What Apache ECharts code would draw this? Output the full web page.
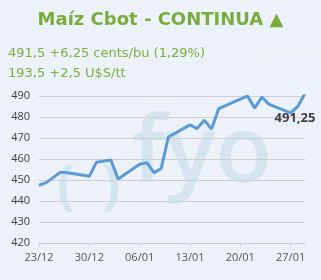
<!DOCTYPE html>
<html><head><meta charset="utf-8">
<script src="https://cdn.jsdelivr.net/npm/echarts@6/dist/echarts.min.js"></script>
<style>html,body{margin:0;padding:0;background:#edf1f9}#c{width:321px;height:280px}</style>
</head><body><div id="c"></div>
<script>
const dates = ["23/12","24/12","26/12","27/12","30/12","31/12","02/01","03/01","06/01","07/01","08/01","09/01","10/01","13/01","14/01","15/01","16/01","17/01","21/01","22/01","23/01","24/01","27/01","28/01","29/01"];
const prices = [447.5,448.75,453.75,453.5,451.75,458.5,459.5,450.5,457.5,458.25,453.5,455.5,470.5,476.25,474.5,478.5,474.25,484,490,484.25,489.5,486,482,485,491.25];
const xTickLabels = ["23/12","30/12","06/01","13/01","20/01","27/01"];
const yTicks = [420,430,440,450,460,470,480,490];
const lastLabel = "491,25";
const titleText = "Maíz Cbot - CONTINUA ▲";
const line1 = "491,5 +6,25 cents/bu (1,29%)";
const line2 = "193,5 +2,5 U$S/tt";

function dayIndex(s){
  const [d,m] = s.split('/').map(Number);
  const y = m === 12 ? 2024 : 2025;
  const t = Date.UTC(y, m-1, d);
  return Math.round((t - Date.UTC(2024,11,23)) / 86400000);
}
const data = dates.map((d,i)=>[dayIndex(d), prices[i]]);
const lastPoint = data[data.length-1];

const chart = echarts.init(document.getElementById('c'), null, {renderer:'canvas'});
chart.setOption({
  backgroundColor:'#edf1f9',
  animation:false,
  title:[
    {text:titleText, left:'center', top:6, textStyle:{fontFamily:'DejaVu Sans', fontWeight:'bold', fontSize:18, color:'#79ad3b'}},
    {text:line1, left:3, top:42, textStyle:{fontFamily:'DejaVu Sans', fontWeight:'normal', fontSize:13, color:'#7ab03e'}},
    {text:line2, left:3, top:62, textStyle:{fontFamily:'DejaVu Sans', fontWeight:'normal', fontSize:13, color:'#7ab03e'}},
    {text:'#¿NOMBRE?', left:251, top:43, textStyle:{fontFamily:'DejaVu Sans', fontWeight:'normal', fontSize:13, color:'#f2f4f1'}}
  ],
  graphic:[
    {id:'wm1', type:'text', z:-1, left:132, top:109, style:{text:'fyo', font:'600 93px "Open Sans"', fill:'#d5e5f0'}},
    {id:'wm2', type:'text', z:-1, left:57, top:162, style:{text:'(', font:'bold 54px "Open Sans"', fill:'#d5e5f0'}},
    {id:'wm3', type:'text', z:-1, left:102, top:162, style:{text:')', font:'bold 54px "Open Sans"', fill:'#d5e5f0'}}
  ],
  grid:{left:39, right:16, top:96, bottom:37},
  xAxis:{type:'value', min:0, max:37, interval:7,
    axisLine:{show:true, lineStyle:{color:'#d0d0d0', width:1}},
    axisTick:{show:true, length:4, lineStyle:{color:'#d0d0d0'}},
    splitLine:{show:false},
    axisLabel:{margin:9, fontFamily:'Open Sans', fontSize:11, color:'#555',
      formatter:(v)=> xTickLabels[Math.round(v/7)] || ''}
  },
  yAxis:{type:'value', min:yTicks[0], max:yTicks[yTicks.length-1], interval:10,
    axisLine:{show:false}, axisTick:{show:false},
    splitLine:{lineStyle:{color:'#d0d0d0', width:1}},
    axisLabel:{margin:9, fontFamily:'Open Sans', fontSize:11, color:'#404040'}
  },
  series:[
    {type:'line', data:data, symbol:'none', lineStyle:{color:'#5b9bd5', width:3}, z:3}
  ]
});
const px = chart.convertToPixel({gridIndex:0}, lastPoint);
chart.setOption({graphic:[{id:'lastLbl', type:'text', z:10, x:px[0]-10, y:px[1]+25,
  style:{text:lastLabel, font:'bold 13px "Open Sans"', fill:'#404040', align:'center', verticalAlign:'middle'}}]});
</script></body></html>
